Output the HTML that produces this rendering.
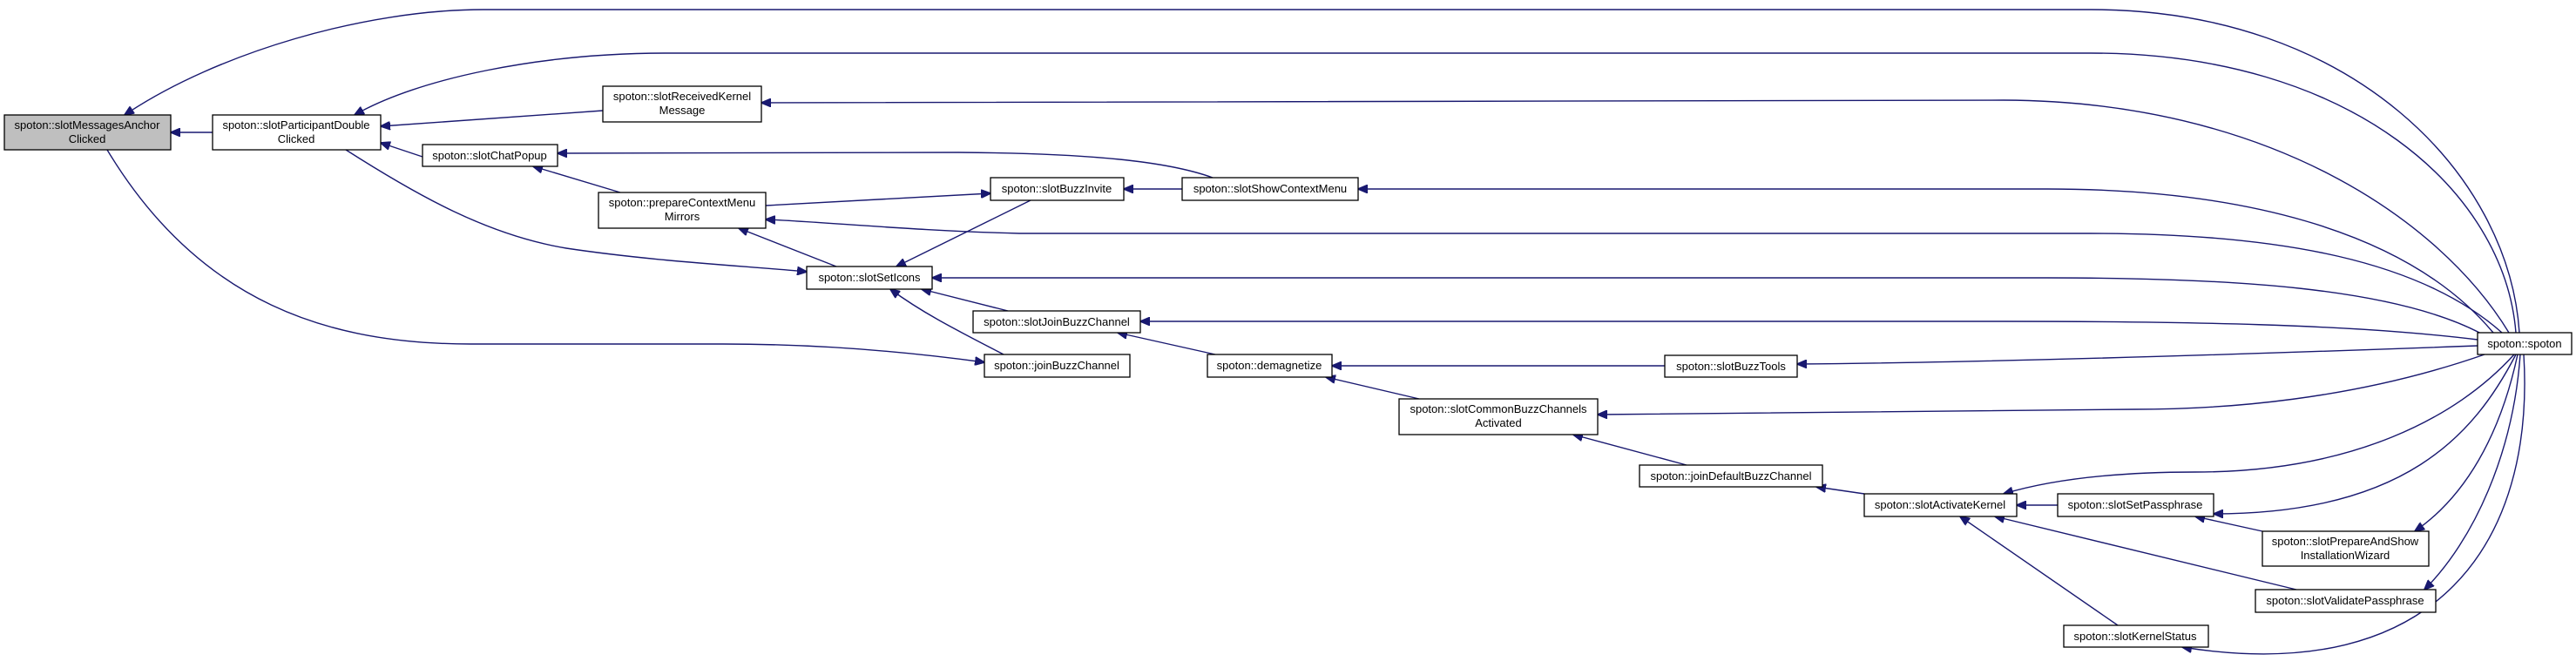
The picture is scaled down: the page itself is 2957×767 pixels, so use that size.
<!DOCTYPE html>
<html><head><meta charset="utf-8"><style>
html,body{margin:0;padding:0;background:#fff;}
svg{display:block;}
text{font-family:"Liberation Sans",Arial,sans-serif;font-size:13px;fill:#000;text-anchor:middle;}
.n{fill:#fff;stroke:#000;stroke-width:1.3;}
.e{fill:none;stroke:#191970;stroke-width:1.4;marker-end:url(#a);}
</style></head><body>
<svg width="2957" height="767" viewBox="0 0 2957 767" xmlns="http://www.w3.org/2000/svg">
<defs><marker id="a" viewBox="0 0 12 10" refX="11" refY="5" markerWidth="12" markerHeight="10" markerUnits="userSpaceOnUse" orient="auto"><path d="M0,0 L12,5 L0,10 z" fill="#191970" stroke="#191970"/></marker></defs>

<!-- edges from spoton -->
<path class="e" d="M2892,382 C2880,200 2700,11 2400,11 L555,11 C420,11 250,60 143,132"/>
<path class="e" d="M2888,382 C2875,220 2700,61 2400,61 L765,61 C620,61 480,90 407,132"/>
<path class="e" d="M2880,382 C2800,250 2600,116 2300,115 L874,118"/>
<path class="e" d="M2872,382 C2780,300 2620,268 2400,268 L1170,268 C1050,265 950,255 879,252"/>
<path class="e" d="M2862,382 C2760,260 2560,217 2350,217 L1559,217"/>
<path class="e" d="M2850,384 C2750,330 2560,319 2350,319 L1070,319"/>
<path class="e" d="M2844,390 C2700,372 2500,369 2300,369 L1309,369"/>
<path class="e" d="M2844,397 C2600,406 2300,416 2063,418"/>
<path class="e" d="M2852,407 C2700,460 2550,470 2450,470 L1834,476"/>
<path class="e" d="M2886,407 C2820,480 2700,542 2520,542 C2420,542 2350,552 2300,567"/>
<path class="e" d="M2888,407 C2840,500 2760,590 2541,590"/>
<path class="e" d="M2890,407 C2870,500 2830,570 2772,610"/>
<path class="e" d="M2893,407 C2885,520 2840,620 2783,677"/>
<path class="e" d="M2897,407 C2910,620 2800,790 2505,743"/>

<!-- other edges -->
<path class="e" d="M244,152 L196,152"/>
<path class="e" d="M692,127 L437,145"/>
<path class="e" d="M485,180 L437,164"/>
<path class="e" d="M397,172 C480,225 560,270 650,285 C750,300 850,305 926,312"/>
<path class="e" d="M123,172 C230,350 380,395 540,395 L830,395 C950,395 1050,405 1130,416"/>
<path class="e" d="M1392,204 C1340,185 1250,176 1100,175 L640,176"/>
<path class="e" d="M712,221 L612,191"/>
<path class="e" d="M879,236 L1137,222"/>
<path class="e" d="M960,306 L848,262"/>
<path class="e" d="M1183,230 L1029,306"/>
<path class="e" d="M1357,217 L1290,217"/>
<path class="e" d="M1157,357 L1058,332"/>
<path class="e" d="M1152,407 C1100,380 1060,360 1022,332"/>
<path class="e" d="M1395,407 L1283,382"/>
<path class="e" d="M1911,420 L1529,420"/>
<path class="e" d="M1629,458 L1522,433"/>
<path class="e" d="M1936,534 L1806,499"/>
<path class="e" d="M2140,567 L2085,559"/>
<path class="e" d="M2362,580 L2315,580"/>
<path class="e" d="M2597,610 L2520,593"/>
<path class="e" d="M2636,677 L2290,593"/>
<path class="e" d="M2431,718 L2250,593"/>

<!-- nodes -->
<rect x="5" y="132" width="191" height="40" fill="#bfbfbf" stroke="#000" stroke-width="1.3"/>
<text x="100" y="148">spoton::slotMessagesAnchor</text><text x="100" y="164">Clicked</text>

<rect class="n" x="244" y="132" width="193" height="40"/>
<text x="340" y="148">spoton::slotParticipantDouble</text><text x="340" y="164">Clicked</text>

<rect class="n" x="692" y="99" width="182" height="41"/>
<text x="783" y="115">spoton::slotReceivedKernel</text><text x="783" y="131">Message</text>

<rect class="n" x="485" y="166" width="155" height="25"/>
<text x="562" y="183">spoton::slotChatPopup</text>

<rect class="n" x="687" y="221" width="192" height="41"/>
<text x="783" y="237">spoton::prepareContextMenu</text><text x="783" y="253">Mirrors</text>

<rect class="n" x="926" y="306" width="144" height="26"/>
<text x="998" y="323">spoton::slotSetIcons</text>

<rect class="n" x="1137" y="204" width="153" height="26"/>
<text x="1213" y="221">spoton::slotBuzzInvite</text>

<rect class="n" x="1357" y="204" width="202" height="26"/>
<text x="1458" y="221">spoton::slotShowContextMenu</text>

<rect class="n" x="1117" y="357" width="192" height="25"/>
<text x="1213" y="374">spoton::slotJoinBuzzChannel</text>

<rect class="n" x="1130" y="407" width="167" height="26"/>
<text x="1213" y="424">spoton::joinBuzzChannel</text>

<rect class="n" x="1386" y="407" width="143" height="26"/>
<text x="1457" y="424">spoton::demagnetize</text>

<rect class="n" x="1911" y="408" width="152" height="25"/>
<text x="1987" y="425">spoton::slotBuzzTools</text>

<rect class="n" x="1606" y="458" width="228" height="41"/>
<text x="1720" y="474">spoton::slotCommonBuzzChannels</text><text x="1720" y="490">Activated</text>

<rect class="n" x="1882" y="534" width="210" height="25"/>
<text x="1987" y="551">spoton::joinDefaultBuzzChannel</text>

<rect class="n" x="2140" y="567" width="175" height="26"/>
<text x="2227" y="584">spoton::slotActivateKernel</text>

<rect class="n" x="2362" y="567" width="179" height="26"/>
<text x="2451" y="584">spoton::slotSetPassphrase</text>

<rect class="n" x="2597" y="610" width="191" height="40"/>
<text x="2692" y="626">spoton::slotPrepareAndShow</text><text x="2692" y="642">InstallationWizard</text>

<rect class="n" x="2589" y="677" width="207" height="26"/>
<text x="2692" y="694">spoton::slotValidatePassphrase</text>

<rect class="n" x="2369" y="718" width="166" height="25"/>
<text x="2451" y="735">spoton::slotKernelStatus</text>

<rect class="n" x="2844" y="382" width="108" height="25"/>
<text x="2898" y="399">spoton::spoton</text>
</svg>
</body></html>
